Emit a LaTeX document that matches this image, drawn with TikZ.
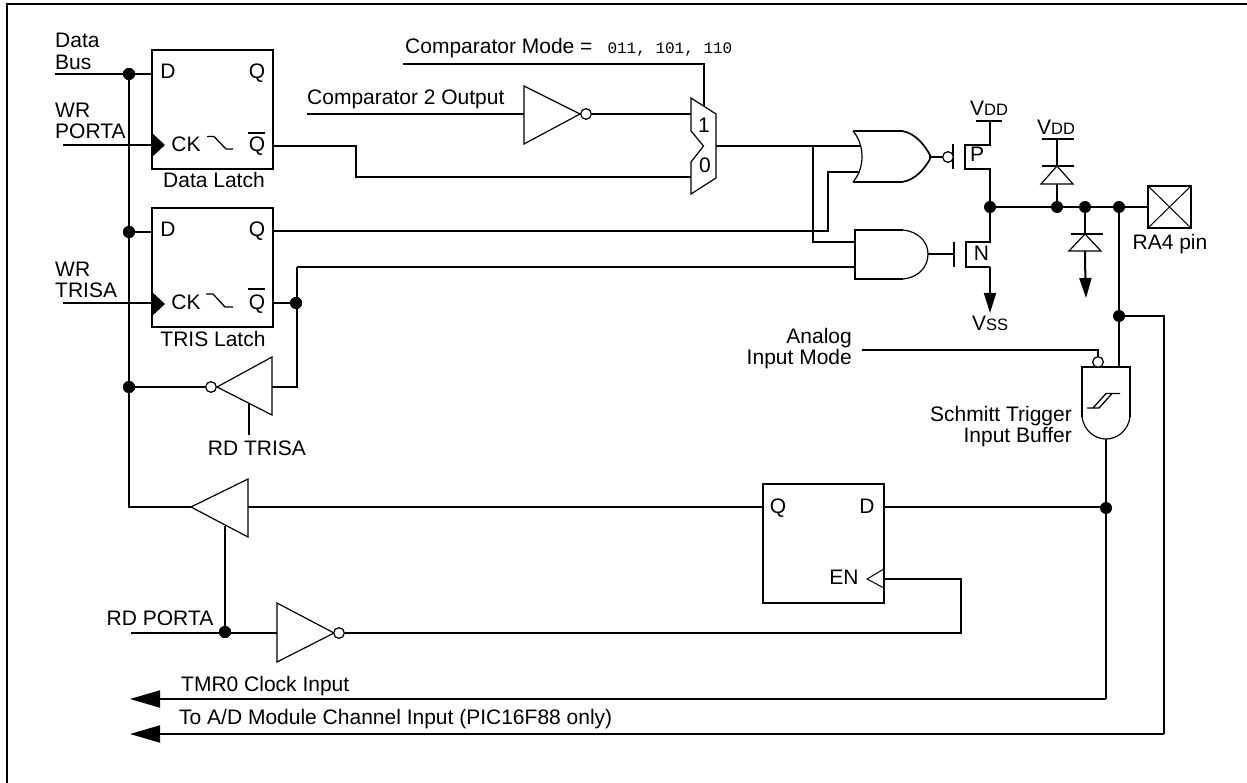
\documentclass[tikz,border=0pt]{standalone}
\usepackage{fontspec}
\setmainfont{Liberation Sans}
\newfontfamily\monof{Liberation Mono}
\usetikzlibrary{arrows.meta}
\newcommand{\smallcap}[1]{{\fontsize{16.5}{16.5}\selectfont #1}}
\tikzset{
  wire/.style={line width=2pt,line cap=butt,line join=miter},
  frameline/.style={line width=2pt},
  sym/.style={line width=1.2pt,line join=miter,fill=white},
  gatebody/.style={line width=1.7pt,line join=miter,fill=white},
  hair/.style={line width=1pt},
  dot/.style={circle,fill=black,inner sep=0pt,minimum size=12pt},
  bub/.style={circle,draw,fill=white,line width=1.1pt,inner sep=0pt,minimum size=10.5pt},
  latch/.style={rectangle,draw,line width=2pt,fill=white,inner sep=0pt,minimum width=121pt,minimum height=119pt},
  lbl/.style={inner sep=0pt,font=\fontsize{21}{24}\selectfont},
  lw/.style={lbl,anchor=base west},
  lc/.style={lbl,anchor=base},
  le/.style={lbl,anchor=base east},
  pinarrow/.style={-{Triangle[length=20pt,width=12pt]}},
  bigarrow/.style={-{Triangle[length=30pt,width=17pt]}},
}
\begin{document}
\begin{tikzpicture}[x=1pt,y=-1pt]
\useasboundingbox (0,0) rectangle (1247,783);
% frame (only the left and top edges are inside the picture)
\coordinate (fb) at (6.5,783);
\coordinate (fc) at (6.5,4.5);
\coordinate (fr) at (1247,4.5);
\draw[frameline] (fb) -- (fc) -- (fr);

% latches
\node[latch] (dl) at (212.5,109.5) {};
\node[latch] (tl) at (212.5,267.5) {};
\node[latch] (bl) at (823.5,543) {};

% junctions
\node[dot] (j1) at (129,74) {};
\node[dot] (j2) at (129,232) {};
\node[dot] (j3) at (129,387) {};
\node[dot] (j4) at (296,303) {};
\node[dot] (j5) at (225,632) {};
\node[dot] (j6) at (990,207) {};
\node[dot] (j7) at (1057,207) {};
\node[dot] (j8) at (1085,207) {};
\node[dot] (j9) at (1119,207) {};
\node[dot] (j10) at (1119,316) {};
\node[dot] (j11) at (1106,508) {};

% free ends and bends
\coordinate (dbus) at (55,74);
\coordinate (wrp) at (63,145);
\coordinate (wrt) at (63,303);
\coordinate (busc) at (129,507);
\coordinate (dlD) at (152,74);
\coordinate (dlCK) at (152,145);
\coordinate (tlD) at (152,232);
\coordinate (tlCK) at (152,303);
\coordinate (dlQb) at (272,146);
\coordinate (b1) at (356,146);
\coordinate (b2) at (356,177);
\coordinate (mux0) at (691,177);
\coordinate (mux1) at (691,114);
\coordinate (muxS) at (704,106);
\coordinate (cm1) at (403,64);
\coordinate (cm2) at (704,64);
\coordinate (c2o) at (307,114);
\coordinate (inv1in) at (524,114);
\coordinate (muxout) at (716,146);
\coordinate (b3) at (813,146);
\coordinate (b4) at (813,242);
\coordinate (orin1) at (861,146);
\coordinate (orin2) at (860,172);
\coordinate (andin1) at (855,242);
\coordinate (andin2) at (855,267);
\coordinate (tlQ) at (273,231);
\coordinate (b5) at (828,231);
\coordinate (b6) at (828,172);
\coordinate (tlQb) at (273,303);
\coordinate (b7) at (297,267);
\coordinate (b8) at (297,387);
\coordinate (tb) at (272,387);
\coordinate (rdtin) at (249,404);
\coordinate (rdt) at (249,435);
\coordinate (rbin) at (248,507);
\coordinate (qin) at (763,507);
\coordinate (dout) at (884,507);
\coordinate (jd) at (1106,507);
\coordinate (rden) at (225,526);
\coordinate (rdp) at (131,633);
\coordinate (jp) at (225,633);
\coordinate (inv3in) at (277,633);
\coordinate (b9) at (961,633);
\coordinate (b10) at (961,579);
\coordinate (enin) at (884,579);
\coordinate (schout) at (1106,439);
\coordinate (b11) at (1106,699);
\coordinate (tmr) at (130,699);
\coordinate (b12) at (1164,316);
\coordinate (b13) at (1164,734);
\coordinate (ad) at (130,734);
\coordinate (aim) at (862,350);
\coordinate (b14) at (1098,350);
\coordinate (schtop) at (1119,367);
\coordinate (vdd1) at (990,121);
\coordinate (pt) at (990,145);
\coordinate (pb) at (990,169);
\coordinate (nt) at (990,242);
\coordinate (nb) at (990,267);
\coordinate (vss) at (990,313);
\coordinate (d1top) at (1057,139);
\coordinate (d1bar) at (1057,166);
\coordinate (d1base) at (1057,184);
\coordinate (d2bar) at (1085,234);
\coordinate (d2base) at (1085,251);
\coordinate (d2tip) at (1086,298);
\coordinate (pin) at (1148,207);

% bubbles
\node[bub] (ib1) at (586,114) {};
\node[bub] (ib2) at (211,387) {};
\node[bub] (ib3) at (339,633) {};
\node[bub] (ib4) at (948,157) {};
\node[bub] (ib5) at (1098,362) {};

% wires
\draw[wire] (dbus) -- (dlD);
\draw[wire] (wrp) -- (dlCK);
\draw[wire] (wrt) -- (tlCK);
\draw[wire] (j2) -- (tlD);
\draw[wire] (j1) -- (j2) -- (j3) -- (busc) -- (191,507);
\draw[wire] (dlQb) -- (b1) -- (b2) -- (mux0);
\draw[wire] (cm1) -- (cm2) -- (muxS);
\draw[wire] (c2o) -- (inv1in);
\draw[wire] (ib1) -- (mux1);
\draw[wire] (muxout) -- (b3) -- (orin1);
\draw[wire] (b3) -- (b4) -- (andin1);
\draw[wire] (tlQ) -- (b5) -- (b6) -- (orin2);
\draw[wire] (tlQb) -- (j4);
\draw[wire] (b7) -- (b8) -- (tb);
\draw[wire] (b7) -- (andin2);
\draw[wire] (ib2) -- (j3);
\draw[wire] (rdtin) -- (rdt);
\draw[wire] (rbin) -- (qin);
\draw[wire] (dout) -- (jd);
\draw[wire] (rden) -- (j5);
\draw[wire] (rdp) -- (inv3in);
\draw[wire] (ib3) -- (b9) -- (b10) -- (enin);
\draw[wire] (schout) -- (b11);
\draw[wire,bigarrow] (b11) -- (tmr);
\draw[wire] (j10) -- (b12) -- (b13);
\draw[wire,bigarrow] (b13) -- (ad);
\draw[wire] (aim) -- (b14) -- (ib5);
\draw[wire] (j9) -- (schtop);
\draw[wire] (j6) -- (pin);

% output stage
\draw[wire] (976,121) -- (1002,121);
\draw[wire] (vdd1) -- (pt) -- (965,145) -- (965,169) -- (pb) -- (nt) -- (966,242) -- (966,267) -- (nb);
\draw[wire,pinarrow] (nb) -- (vss);
\draw[wire] (953,144) -- (953,169);
\draw[wire] (954,242) -- (954,267);
\draw[wire] (928,254) -- (954,254);
\draw[wire] (929,157) -- (ib4);

% diodes
\draw[wire] (1042,139) -- (1074,139);
\draw[wire] (1042,166) -- (1074,166);
\draw[wire] (d1top) -- (d1bar);
\draw[sym] (d1bar) -- (1073,184) -- (1041,184) -- cycle;
\draw[wire] (d1base) -- (j7);
\draw[wire] (j8) -- (d2bar);
\draw[wire] (1071,234) -- (1103,234);
\draw[sym] (d2bar) -- (1101,251) -- (1069,251) -- cycle;
\draw[wire,pinarrow] (d2base) -- (1085,262) -- (d2tip);

% pin
\draw[line width=2pt] (1148,186) rectangle (1191,228);
\draw[hair] (1148,186) -- (1191,228) (1148,228) -- (1191,186);

% clock triangles
\fill (152,133) -- (165,145) -- (152,157) -- cycle;
\fill (152,292) -- (165,304) -- (152,316) -- cycle;
\draw[hair,line join=miter] (884,569) -- (867,579) -- (884,588);

% inverters and buffers
\draw[sym] (524,86) -- (580,114) -- (524,144) -- cycle;
\draw[sym] (272,357) -- (217,387) -- (272,415) -- cycle;
\draw[sym] (248,479) -- (191,507) -- (248,537) -- cycle;
\draw[sym] (277,603) -- (334,633) -- (277,662) -- cycle;
\node[bub] at (ib1) {};
\node[bub] at (ib2) {};
\node[bub] at (ib3) {};

% mux
\draw[sym] (691,98) -- (716,114) -- (716,178) -- (691,194) -- (691,162) -- (703.5,146) -- (691,131) -- cycle;

% OR gate
\draw[gatebody,fill=none] (853,131) -- (902,131) .. controls (915,133) and (925,145) .. (931,157)
   .. controls (925,169) and (915,180) .. (902,182) -- (853,182);
\draw[sym,fill=none] (853,131) .. controls (865,145) and (865,168) .. (853,182);
% AND gate
\draw[gatebody,fill=none] (903,230) -- (855,230) -- (855,279) -- (903,279);
\draw[sym,fill=none] (903,230) .. controls (920,232) and (928,243) .. (928,254) .. controls (928,266) and (920,277) .. (903,279);
\node[bub] at (ib4) {};

% Schmitt gate
\draw[gatebody] (1082,417) -- (1082,367) -- (1130,367) -- (1130,417);
\draw[sym,fill=none] (1082,417) .. controls (1084,431) and (1095,439) .. (1106,439) .. controls (1117,439) and (1128,431) .. (1130,417);
\node[bub] at (ib5) {};
\draw[hair,line width=1.3pt] (1087,408) -- (1099,408) -- (1112,393.5) -- (1120,393.5);
\draw[hair,line width=1.3pt] (1093,408) -- (1106,393.5) -- (1112,393.5);

% falling edge marks
\draw[hair,line width=1.3pt] (207,136.5) -- (214,136.5) -- (226,149) -- (233,149);
\draw[hair,line width=1.3pt] (206,294) -- (213,294) -- (225,307) -- (233,307);

% Q bars
\draw[hair,line width=1.5pt] (248,133) -- (265,133);
\draw[hair,line width=1.5pt] (248,289) -- (265,289);

% repaint junctions
\node[dot] at (j1) {};
\node[dot] at (j2) {};
\node[dot] at (j3) {};
\node[dot] at (j4) {};
\node[dot] at (j5) {};

% labels
\node[lw] (t1) at (55,48) {Data};
\node[lw] (t2) at (55,70) {Bus};
\node[lw] (t3) at (55,118) {WR};
\node[lw] (t4) at (55,139) {PORTA};
\node[lw] (t5) at (55,277) {WR};
\node[lw] (t6) at (55,298) {TRISA};
\node[lc] (t7) at (168,79) {D};
\node[lc] (t8) at (257,79) {Q};
\node[lc] (t9) at (186,152) {CK};
\node[lc] (t10) at (257,152) {Q};
\node[lc] (t11) at (214,188) {Data Latch};
\node[lc] (t12) at (168,237) {D};
\node[lc] (t13) at (257,237) {Q};
\node[lc] (t14) at (186,310) {CK};
\node[lc] (t15) at (257,310) {Q};
\node[lc] (t16) at (213,347) {TRIS Latch};
\node[lc] (t17) at (257,455) {RD TRISA};
\node[lc] (t18) at (160,625) {RD PORTA};
\node[lw] (t19) at (181,691) {TMR0 Clock Input};
\node[lw] (t20) at (179,724) {To A/D Module Channel Input (PIC16F88 only)};
\node[lc] (t21) at (778,513) {Q};
\node[lc] (t22) at (867,513) {D};
\node[lc] (t23) at (844,584) {EN};
\node[lc] (t24) at (704,133) {1};
\node[lc] (t25) at (705,173) {0};
\node[lc] (t26) at (1170,250) {RA4 pin};
\node[lw] (t27) at (405,54) {Comparator Mode =\hspace{15pt}{\monof\fontsize{16}{16}\selectfont 011, 101, 110}};
\node[lw] (t28) at (307,105) {Comparator 2 Output};
\node[lw] (t29) at (970,116) {V\smallcap{DD}};
\node[lw] (t30) at (1037,135) {V\smallcap{DD}};
\node[lw] (t31) at (972,331) {V\smallcap{SS}};
\node[lc] (t36) at (977,162) {P};
\node[lc] (t37) at (981.5,261) {N};
\node[le] (t32) at (852,344) {Analog};
\node[le] (t33) at (852,365) {Input Mode};
\node[le] (t34) at (1072,421) {Schmitt Trigger};
\node[le] (t35) at (1072,442) {Input Buffer};
\end{tikzpicture}
\end{document}
